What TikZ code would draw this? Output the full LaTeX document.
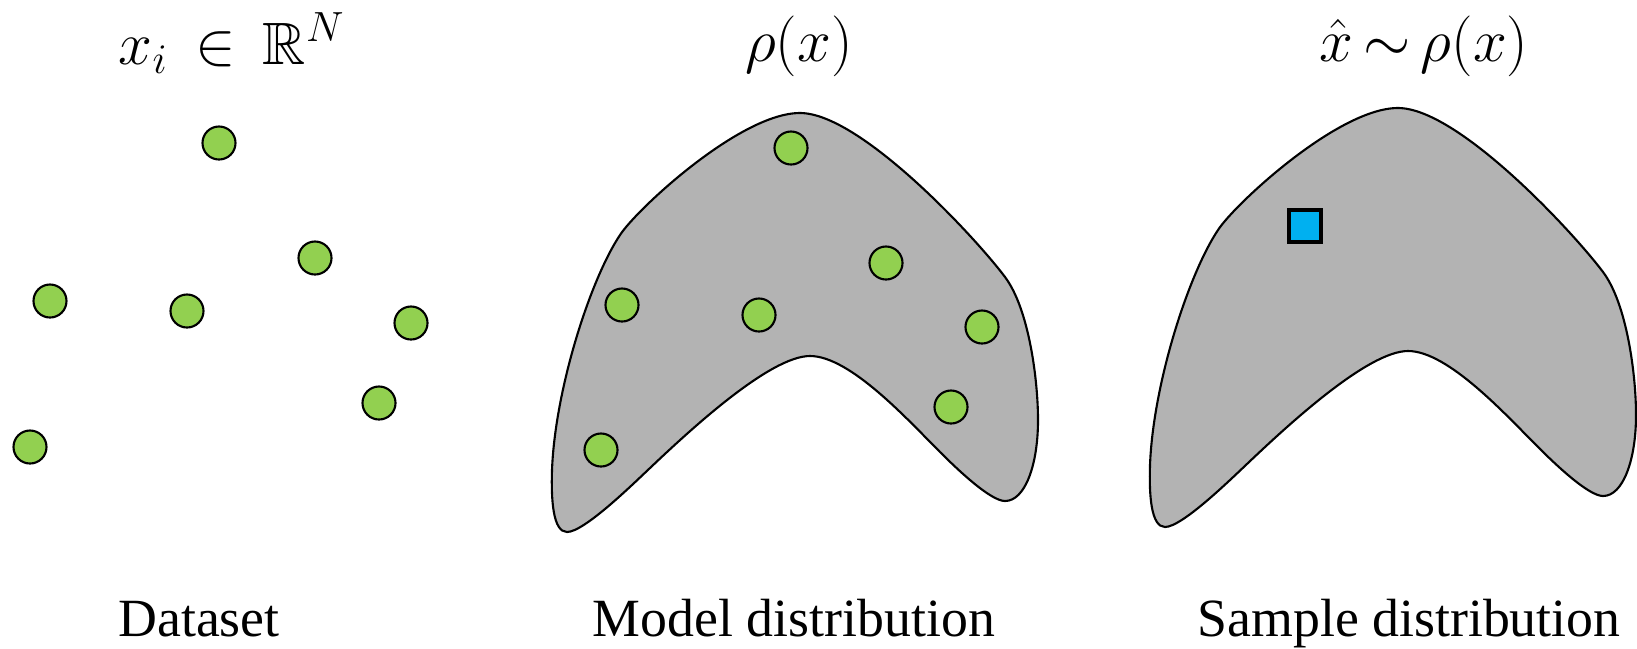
\documentclass[tikz,border=0pt]{standalone}
\usepackage{amsmath,amssymb}
\usepackage[no-math]{fontspec}
\setmainfont{Liberation Serif}
\usepackage{xcolor}
\usetikzlibrary{positioning}
\definecolor{ptgreen}{HTML}{92D050}
\definecolor{smpblue}{HTML}{00B0F0}
\definecolor{regiongray}{HTML}{B3B3B3}
\tikzset{
  datapt/.style={draw, circle, line width=0.6pt, fill=ptgreen, minimum size=3.3mm, inner sep=0pt},
  sample/.style={draw, rectangle, line width=1.1pt, fill=smpblue, minimum size=3.2mm, inner sep=0pt},
  region/.style={draw, line width=0.6pt, fill=regiongray},
  title/.style={anchor=base, inner sep=0pt, font=\fontsize{19}{22}\selectfont},
  caption/.style={anchor=base, inner sep=0pt, font=\fontsize{15.3}{18}\selectfont},
  blob/.pic={
    \draw[region] (567,532) .. controls (553,532) and (551,500) .. (552,470)
      .. controls (555,390) and (590,280) .. (620,235)
      .. controls (636,210) and (740,113) .. (800,113)
      .. controls (860,113) and (975,237) .. (1005,277)
      .. controls (1029,309) and (1038,380) .. (1038,420)
      .. controls (1038,465) and (1025,501) .. (1005,501)
      .. controls (990,501) and (955,467) .. (940,452)
      .. controls (908,420) and (850,356) .. (810,356)
      .. controls (770,356) and (690,430) .. (650,468)
      .. controls (632,485) and (584,532) .. (567,532) -- cycle;
  }
}

\begin{document}
\begin{tikzpicture}[x=0.01cm, y=-0.01cm]
    \useasboundingbox (0,0) rectangle (1637,648);

    % dataset
    \node[title, font=\fontsize{17}{20}\selectfont] (tdata) at (232,64) {$x_i \,\in\, \mathbb{R}^N$};
    \node[datapt] (d1) at (219,143) {};
    \node[datapt] (d2) at (315,258) {};
    \node[datapt] (d3) at (50,301) {};
    \node[datapt] (d4) at (187,311) {};
    \node[datapt] (d5) at (411,323) {};
    \node[datapt] (d6) at (379,403) {};
    \node[datapt] (d7) at (30,447) {};
    \node[caption] (cdata) at (199,636) {Dataset};

    % model distribution
    \pic (bmodel) at (0,0) {blob};
    \node[title] (tmodel) at (799,61) {$\rho(x)$};
    \node[datapt] (m1) at (791,148) {};
    \node[datapt] (m2) at (886,263) {};
    \node[datapt] (m3) at (622,305) {};
    \node[datapt] (m4) at (759,315) {};
    \node[datapt] (m5) at (982,327) {};
    \node[datapt] (m6) at (951,407) {};
    \node[datapt] (m7) at (601,450) {};
    \node[caption] (cmodel) at (794,636) {Model distribution};

    % sample distribution
    \pic (bsample) at (598,-5) {blob};
    \node[title] (tsample) at (1424,61) {$\hat{x}\mskip3mu{\sim}\mskip3mu\rho(x)$};
    \node[sample] (s1) at (1305,226) {};
    \node[caption] (csample) at (1409,636) {Sample distribution};
\end{tikzpicture}
\end{document}
